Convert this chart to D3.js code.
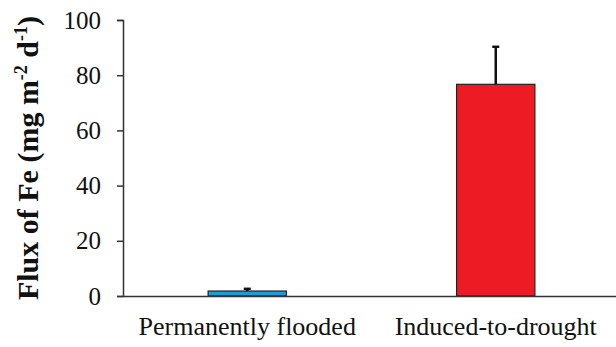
<!DOCTYPE html>
<html>
<head>
<meta charset="utf-8">
<script src="https://cdn.jsdelivr.net/npm/d3@7"></script>
<style>
  html, body { margin: 0; padding: 0; background: #fff; }
  svg { display: block; }
</style>
</head>
<body>
<svg id="chart" width="616" height="347"></svg>
<script>
// Fe flux per treatment (mg m-2 d-1), mean and error
const categories = ["Permanently flooded", "Induced-to-drought"];
const fluxMeans = [1.8, 76.7];
const fluxErrors = [0.8, 13.6];
const barColors = ["#1b9dd9", "#ed1c24"];
const yTicks = [0, 20, 40, 60, 80, 100];

const svg = d3.select("#chart");
const margin = { left: 123, top: 20, right: -4, bottom: 51 };
const width = 616 - margin.left - margin.right;
const height = 347 - margin.top - margin.bottom;

const g = svg.append("g").attr("transform", `translate(${margin.left},${margin.top})`);

const x = d3.scaleBand().domain(categories).range([0, width]).paddingInner(0.685).paddingOuter(0.3425);
const y = d3.scaleLinear().domain([0, 100]).range([height, 0]);

const serif = "'Liberation Serif', 'Times New Roman', serif";

// bars
g.selectAll("rect.bar")
  .data(categories)
  .join("rect")
  .attr("class", "bar")
  .attr("x", d => x(d))
  .attr("width", x.bandwidth())
  .attr("y", (d, i) => y(fluxMeans[i]))
  .attr("height", (d, i) => y(0) - y(fluxMeans[i]))
  .attr("fill", (d, i) => barColors[i])
  .attr("stroke", "#222")
  .attr("stroke-width", 1.2);

// upper error bars
const eb = g.selectAll("g.err").data(categories).join("g").attr("class", "err");
eb.append("line")
  .attr("x1", d => x(d) + x.bandwidth() / 2)
  .attr("x2", d => x(d) + x.bandwidth() / 2)
  .attr("y1", (d, i) => y(fluxMeans[i]))
  .attr("y2", (d, i) => y(fluxMeans[i] + fluxErrors[i]))
  .attr("stroke", "#111")
  .attr("stroke-width", 2.5);
eb.append("line")
  .attr("x1", d => x(d) + x.bandwidth() / 2 - 3.5)
  .attr("x2", d => x(d) + x.bandwidth() / 2 + 3.5)
  .attr("y1", (d, i) => y(fluxMeans[i] + fluxErrors[i]))
  .attr("y2", (d, i) => y(fluxMeans[i] + fluxErrors[i]))
  .attr("stroke", "#111")
  .attr("stroke-width", 2.5);

// y axis
const yAxis = g.append("g")
  .call(d3.axisLeft(y).tickValues(yTicks).tickSize(6).tickPadding(16).tickFormat(d3.format("d")));
yAxis.select(".domain").attr("stroke", "#333").attr("stroke-width", 1.5);
yAxis.selectAll(".tick line").attr("stroke", "#333").attr("stroke-width", 1.5);
yAxis.selectAll(".tick text")
  .attr("font-family", serif)
  .attr("font-size", 25)
  .attr("fill", "#111");

// x axis
const xAxis = g.append("g")
  .attr("transform", `translate(0,${height})`)
  .call(d3.axisBottom(x).tickSize(0).tickPadding(21));
xAxis.select(".domain").attr("stroke", "#333").attr("stroke-width", 1.5);
xAxis.selectAll(".tick text")
  .attr("font-family", serif)
  .attr("font-size", 26)
  .attr("fill", "#111");

// y axis title with superscripts
const title = svg.append("text")
  .attr("transform", `translate(38,${margin.top + height / 2}) rotate(-90)`)
  .attr("text-anchor", "middle")
  .attr("font-family", serif)
  .attr("font-weight", "bold")
  .attr("font-size", 30)
  .attr("fill", "#111");
title.append("tspan").text("Flux of Fe (mg m");
title.append("tspan").text("-2").attr("font-size", 18).attr("dy", -11);
title.append("tspan").text(" d").attr("dy", 11);
title.append("tspan").text("-1").attr("font-size", 18).attr("dy", -11);
title.append("tspan").text(")").attr("dy", 11);
</script>
</body>
</html>
